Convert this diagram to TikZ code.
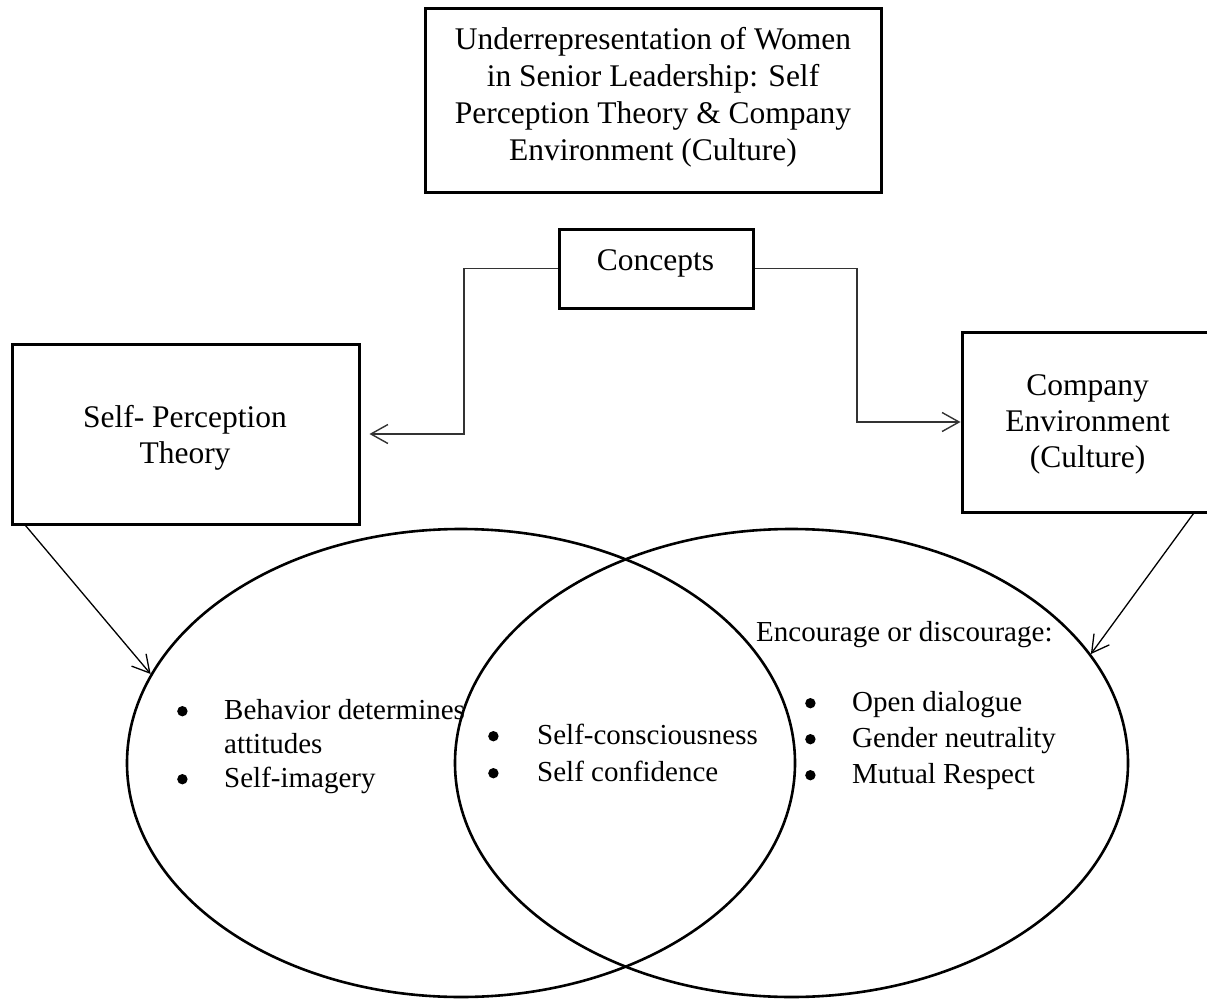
\documentclass[tikz,border=0pt]{standalone}
\usepackage{fontspec}
\setmainfont{Liberation Serif}
\usetikzlibrary{arrows.meta,shapes.geometric}
\newcommand{\ctext}[1]{\begin{tabular}[t]{@{}c@{}}#1\end{tabular}}
\newcommand{\blist}[2]{\begin{tabular}[t]{@{}p{#1}@{}l@{}}#2\end{tabular}}
\newcommand{\bul}{\tikz[baseline=0pt]\fill[black] (5.2pt,7.8pt) circle[radius=5.2pt];}
\begin{document}
\begin{tikzpicture}[x=1pt,y=-1pt,
  box/.style={draw, line width=3pt, inner sep=0pt, rectangle},
  bigtxt/.style={inner sep=0pt, font=\fontsize{31.5}{36.7}\selectfont},
  bigtxtb/.style={inner sep=0pt, font=\fontsize{31.5}{36}\selectfont},
  smalltxt/.style={inner sep=0pt, font=\fontsize{29}{#1}\selectfont},
  venn/.style={draw, ellipse, line width=2.6pt, inner sep=0pt},
  conn/.style={draw=black!80, line width=1.4pt, -{Straight Barb[length=17pt,width=19pt]}},
  diag/.style={draw=black, line width=1.3pt, -{Straight Barb[length=17pt,width=19pt]}}
]
\clip (0,0) rectangle (1207,1003);
\fill[white] (0,0) rectangle (1207,1003);

% boxes
\node[box, minimum width=456pt, minimum height=184pt] (titlebox) at (653,101) {};
\node[box, minimum width=194pt, minimum height=79pt] (concepts) at (656,268.5) {};
\node[box, minimum width=347pt, minimum height=180pt] (spt) at (185.5,434) {};
\node[box, minimum width=251pt, minimum height=180pt] (company) at (1087.5,422) {};

% box texts
\node[bigtxt, anchor=base] (titletxt) at (653,50) {\ctext{Underrepresentation of Women\\ in Senior Leadership: Self\\ Perception Theory \& Company\\ Environment (Culture)}};
\node[bigtxt, anchor=base] (conceptstxt) at (655.5,270) {Concepts};
\node[bigtxtb, anchor=base] (spttxt) at (185,427) {\ctext{Self- Perception\\ Theory}};
\node[bigtxtb, anchor=base] (companytxt) at (1087.5,395) {\ctext{Company\\ Environment\\ (Culture)}};

% ellipses
\node[venn, minimum width=668pt, minimum height=468pt] (L) at (461,763) {};
\node[venn, minimum width=673pt, minimum height=468pt] (R) at (791.5,763) {};

% connectors
\draw[conn] (concepts.west) -- (464,268.5) |- ([xshift=9pt]spt.east);
\draw[conn] (concepts.east) -- (857,268.5) |- (company.west);
\draw[diag] ([xshift=15pt]spt.south west) -- (L.164);
\draw[diag] ([xshift=-21pt]company.south east) -- (R.20);

% lists
\node[smalltxt=34, anchor=base west] (leftlist) at (177,719) {\blist{47pt}{\bul & Behavior determines\\ & attitudes\\ \bul & Self-imagery}};
\node[smalltxt=37, anchor=base west] (midlist) at (488,744) {\blist{49pt}{\bul & Self-consciousness\\ \bul & Self confidence}};
\node[smalltxt=36, anchor=base west] (enc) at (756,641) {Encourage or discourage:};
\node[smalltxt=36, anchor=base west] (rightlist) at (805,711) {\blist{47pt}{\bul & Open dialogue\\ \bul & Gender neutrality\\ \bul & Mutual Respect}};
\end{tikzpicture}
\end{document}
